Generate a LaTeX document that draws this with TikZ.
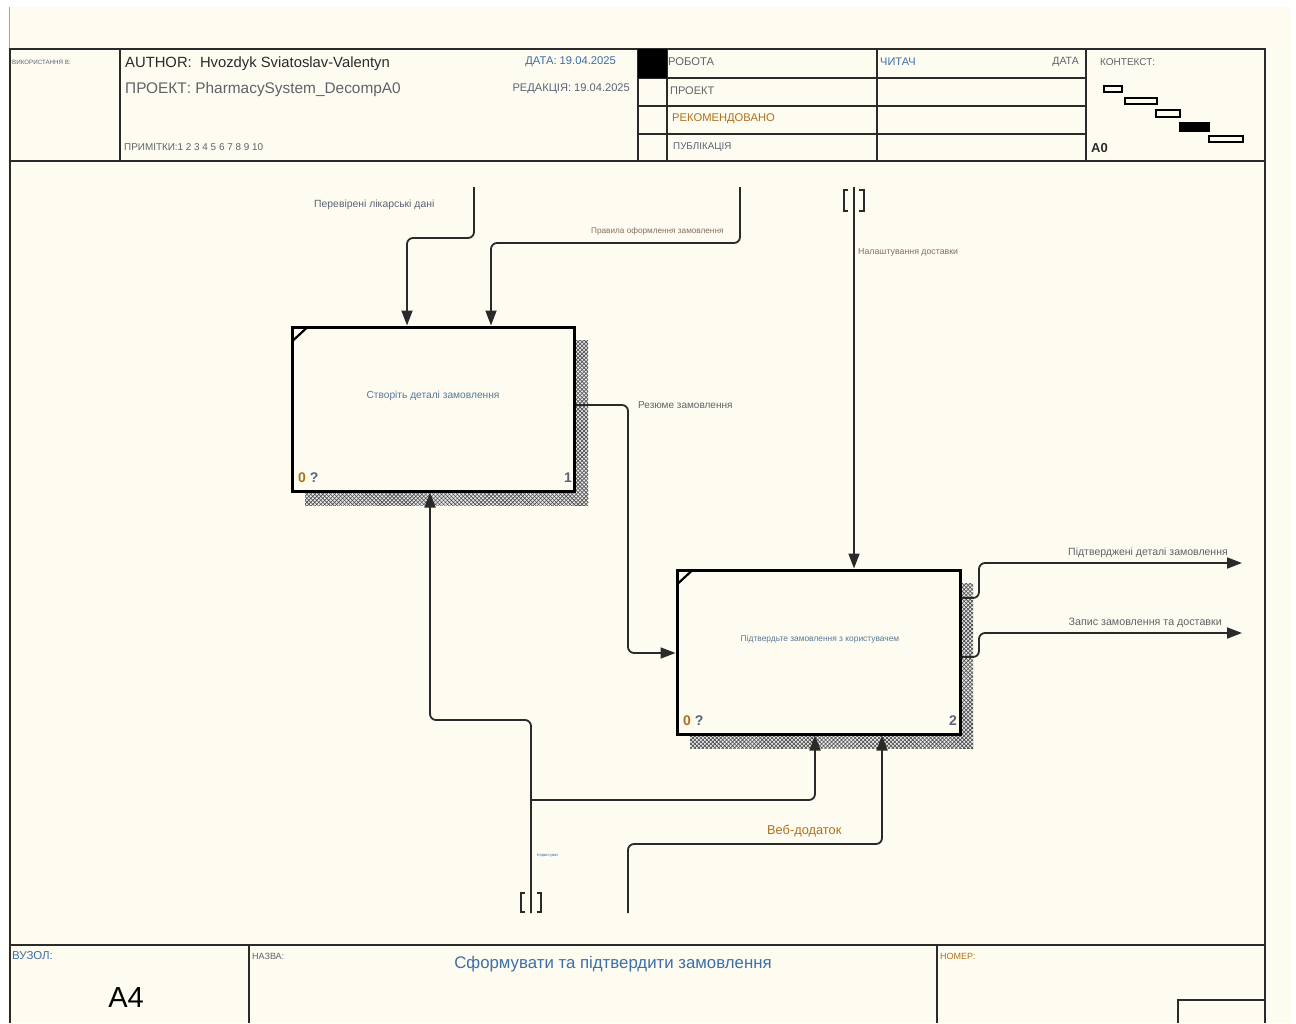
\documentclass[tikz,border=0pt]{standalone}
\usepackage{fontspec}
\setmainfont{Liberation Sans}
\usetikzlibrary{arrows.meta,patterns.meta}

\definecolor{paper}{HTML}{FEFBF0}
\definecolor{ink}{HTML}{2A2A2A}
\definecolor{idblue}{HTML}{3C6EA8}
\definecolor{boxtext}{HTML}{557A99}
\definecolor{labgray}{HTML}{5F6368}
\definecolor{labbrown}{HTML}{85705F}
\definecolor{amber}{HTML}{B0701C}
\definecolor{slate}{HTML}{5A6478}

\tikzset{
  frame/.style={draw=ink, line width=1.6pt},
  fbox/.style={draw=black, line width=3pt, fill=paper, inner sep=0pt},
  shade/.style={fill=gray!18, postaction={pattern={Lines[angle=45,distance=2.8pt,line width=0.6pt]}, pattern color=gray!55!black},
                postaction={pattern={Lines[angle=-45,distance=2.8pt,line width=0.6pt]}, pattern color=gray!55!black}},
  flow/.style={draw=ink, line width=1.8pt, rounded corners=6pt},
  tip/.style={-{Triangle[length=15pt,width=11pt]}},
  tunnel/.style={draw=ink, line width=1.8pt},
  txt/.style={inner sep=0pt, anchor=west},
  ctx/.style={draw=black, line width=1.5pt, fill=paper},
  corner/.style={draw=black, line width=2.2pt},
  boxnum/.style={inner sep=0pt, font=\fontsize{14}{15}\selectfont\bfseries},
}

\begin{document}
\begin{tikzpicture}[x=1pt,y=-1pt]
\useasboundingbox (0,0) rectangle (1296,1023);
\fill[white] (0,0) rectangle (1296,1023);
\fill[paper] (8,7) rectangle (1291,1023);
\draw[gray!70, line width=0.8pt] (9,7) -- (9,49);

% ---------- sheet frame ----------
\draw[frame] (10,1023) -- (10,49) -- (1265,49) -- (1265,1023);
\draw[frame] (10,161) -- (1265,161);
\draw[frame] (10,945) -- (1265,945);
\foreach \x in {120,638,667,877,1086} \draw[frame] (\x,49) -- (\x,161);
\foreach \y in {78,106,134} \draw[frame] (638,\y) -- (1086,\y);
\fill[black] (638,49) rectangle (667,78);
\foreach \x in {249,937} \draw[frame] (\x,945) -- (\x,1023);
\draw[frame] (1178,1023) -- (1178,1000) -- (1265,1000);

% ---------- header texts ----------
\node[txt, font=\fontsize{6.2}{7}\selectfont, text=slate] (usedat) at (12,62) {ВИКОРИСТАННЯ В:};
\node[txt, font=\fontsize{14.8}{16}\selectfont, text=ink] (author) at (125,64) {AUTHOR:\ \ Hvozdyk Sviatoslav-Valentyn};
\node[txt, font=\fontsize{15.4}{17}\selectfont, text=labgray] (project) at (125,90) {ПРОЕКТ: PharmacySystem\_DecompA0};
\node[txt, font=\fontsize{9.9}{11}\selectfont, text=labgray] (notes) at (124,147) {ПРИМІТКИ:1 2 3 4 5 6 7 8 9 10};
\node[txt, anchor=east, font=\fontsize{11.2}{12}\selectfont, text=idblue] (date) at (616,62) {ДАТА: 19.04.2025};
\node[txt, anchor=east, font=\fontsize{11.1}{12}\selectfont, text=slate] (rev) at (630,89) {РЕДАКЦІЯ: 19.04.2025};
\node[txt, font=\fontsize{11.2}{12}\selectfont, text=labgray] (work) at (668,62) {РОБОТА};
\node[txt, font=\fontsize{11}{12}\selectfont, text=labgray] (proj2) at (670,91) {ПРОЕКТ};
\node[txt, font=\fontsize{11.2}{12}\selectfont, text=amber] (rec) at (672,119) {РЕКОМЕНДОВАНО};
\node[txt, font=\fontsize{9.8}{12}\selectfont, text=slate] (pub) at (673,147) {ПУБЛІКАЦІЯ};
\node[txt, font=\fontsize{11}{12}\selectfont, text=idblue] (reader) at (880,62) {ЧИТАЧ};
\node[txt, anchor=east, font=\fontsize{10.5}{12}\selectfont, text=labgray] (rdate) at (1079,62) {ДАТА};
\node[txt, font=\fontsize{10}{11}\selectfont, text=labgray] (context) at (1100,62) {КОНТЕКСТ:};
\node[txt, font=\fontsize{13}{14}\selectfont\bfseries, text=ink] (a0) at (1091,148) {A0};

% context map
\draw[ctx] (1104,86) rectangle (1122,92);
\draw[ctx] (1125,98) rectangle (1157,104);
\draw[ctx] (1156,110) rectangle (1180,117);
\draw[ctx, fill=black] (1180,123) rectangle (1209,131);
\draw[ctx] (1209,136) rectangle (1243,142);

% ---------- activity boxes ----------
\fill[shade] (574,340) rectangle (588,505);
\fill[shade] (305,491) rectangle (588,505);
\fill[shade] (960,583) rectangle (973,748);
\fill[shade] (690,734) rectangle (973,748);

\node[fbox, minimum width=282pt, minimum height=164pt] (b1) at (433,409) {};
\node[fbox, minimum width=283pt, minimum height=164pt] (b2) at (818.5,652) {};
\draw[corner] ([shift={(2.5pt,-15pt)}]b1.north west) -- ([shift={(16pt,-2.5pt)}]b1.north west);
\draw[corner] ([shift={(2.5pt,-15pt)}]b2.north west) -- ([shift={(16pt,-2.5pt)}]b2.north west);

\node[font=\fontsize{10.2}{12}\selectfont, text=boxtext, inner sep=0pt] (b1t) at (433,396) {Створіть деталі замовлення};
\node[font=\fontsize{8.4}{10}\selectfont, text=boxtext, inner sep=0pt] (b2t) at (820,639) {Підтвердьте замовлення з користувачем};

\node[boxnum, anchor=west] (b1q) at (298,478) {\textcolor{amber}{0}\ \textcolor{slate}{?}};
\node[boxnum, anchor=east, text=slate] (b1n) at (572,478) {1};
\node[boxnum, anchor=west] (b2q) at (683,721) {\textcolor{amber}{0}\ \textcolor{slate}{?}};
\node[boxnum, anchor=east, text=slate] (b2n) at (957,721) {2};

% ---------- connector ends ----------
\coordinate (inA) at (474,187);
\coordinate (inB) at (740,187);
\coordinate (inC) at (854,187);
\coordinate (inD) at (531,913);
\coordinate (inE) at (628,913);
\coordinate (outA) at (1242,563);
\coordinate (outB) at (1242,633);

% controls into box 1
\draw[flow, tip] (inA) -- (474,238) -- (407,238) -- ([xshift=-26pt]b1.north);
\draw[flow, tip] (inB) -- (740,243) -- (491,243) -- ([xshift=58pt]b1.north);
% control into box 2 (tunnelled)
\draw[flow, tip] (inC) -- ([xshift=35.5pt]b2.north);
\draw[tunnel] (848,190) -- (844,190) -- (844,211) -- (848,211);
\draw[tunnel] (859,190) -- (864,190) -- (864,211) -- (859,211);

% box 1 output to box 2 input
\draw[flow, tip] ([yshift=4pt]b1.east) -- (628,405) -- (628,653) -- (b2.west |- 628,653);

% box 2 outputs
\draw[flow, tip] ([yshift=54pt]b2.east) -- (979,598) -- (979,563) -- (outA);
\draw[flow, tip] ([yshift=-5pt]b2.east) -- (979,657) -- (979,633) -- (outB);

% mechanism: user (tunnelled) to both boxes
\draw[flow, tip] (inD) -- (531,720) -- (430,720) -- ([xshift=-3pt]b1.south);
\draw[flow, tip] (531,800) -- (815,800) -- ([xshift=-3.5pt]b2.south);
\draw[tunnel] (525,893) -- (521,893) -- (521,912) -- (525,912);
\draw[tunnel] (537,893) -- (541,893) -- (541,912) -- (537,912);
% mechanism: web application
\draw[flow, tip] (inE) -- (628,844) -- (882,844) -- ([xshift=63.5pt]b2.south);

% ---------- connector labels ----------
\node[txt, font=\fontsize{10.4}{12}\selectfont, text=slate] (lA) at (314,205) {Перевірені лікарські дані};
\node[txt, font=\fontsize{8.2}{9}\selectfont, text=labbrown] (lB) at (591,231) {Правила оформлення замовлення};
\node[txt, font=\fontsize{8.8}{10}\selectfont, text=labbrown] (lC) at (858,252) {Налаштування доставки};
\node[txt, font=\fontsize{10}{12}\selectfont, text=labgray] (lR) at (638,405) {Резюме замовлення};
\node[txt, anchor=east, font=\fontsize{10.5}{12}\selectfont, text=labgray] (lO1) at (1228,553) {Підтверджені деталі замовлення};
\node[txt, anchor=east, font=\fontsize{10.7}{12}\selectfont, text=labgray] (lO2) at (1222,623) {Запис замовлення та доставки};
\node[txt, font=\fontsize{12.8}{14}\selectfont, text=amber] (lW) at (767,831) {Веб-додаток};
\node[txt, font=\fontsize{4}{5}\selectfont, text=idblue] (lU) at (537,856) {Користувач};

% ---------- footer ----------
\node[txt, font=\fontsize{11.5}{13}\selectfont, text=idblue] (node) at (12,956) {ВУЗОЛ:};
\node[font=\fontsize{29}{31}\selectfont, text=black, inner sep=0pt] (nodeid) at (126,998) {A4};
\node[txt, font=\fontsize{9}{10}\selectfont, text=labgray] (title) at (252,956) {НАЗВА:};
\node[font=\fontsize{16.8}{19}\selectfont, text=idblue, inner sep=0pt] (titletext) at (613,964) {Сформувати та підтвердити замовлення};
\node[txt, font=\fontsize{9}{10}\selectfont, text=amber] (number) at (940,956) {НОМЕР:};
\end{tikzpicture}
\end{document}
